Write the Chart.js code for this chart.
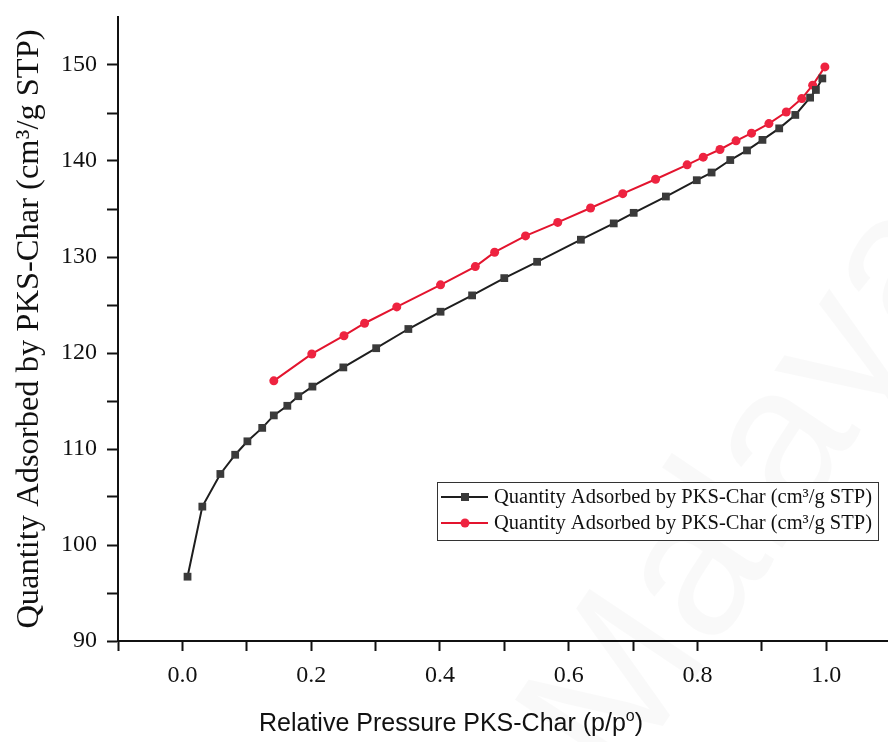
<!DOCTYPE html>
<html>
<head>
<meta charset="utf-8">
<script src="https://cdn.jsdelivr.net/npm/chart.js@4"></script>
<style>
    html, body { margin: 0; padding: 0; background: #fff; }
    #wrap { width: 888px; height: 742px; }
</style>
</head>
<body>
<div id="wrap"><canvas id="isoChart" width="888" height="742"></canvas></div>
<script>
// Relative pressure (p/p0) and quantity adsorbed
const adsP = [0.008, 0.031, 0.059, 0.082, 0.101, 0.124, 0.142, 0.163, 0.180, 0.202,
    0.250, 0.301, 0.351, 0.401, 0.450, 0.500, 0.551, 0.619, 0.670, 0.701,
    0.751, 0.799, 0.822, 0.851, 0.877, 0.901, 0.927, 0.952, 0.975, 0.984, 0.994]
const adsQ = [96.7, 104.0, 107.4, 109.4, 110.8, 112.2, 113.5, 114.5, 115.5, 116.5,
    118.5, 120.5, 122.5, 124.3, 126.0, 127.8, 129.5, 131.8, 133.5, 134.6,
    136.3, 138.0, 138.8, 140.1, 141.1, 142.2, 143.4, 144.8, 146.6, 147.4, 148.6]

const desP = [0.142, 0.201, 0.251, 0.283, 0.333, 0.401, 0.455, 0.485, 0.533, 0.583,
    0.634, 0.684, 0.735, 0.784, 0.809, 0.835, 0.860, 0.884, 0.911, 0.938,
    0.962, 0.979, 0.998]
const desQ = [117.1, 119.9, 121.8, 123.1, 124.8, 127.1, 129.0, 130.5, 132.2, 133.6,
    135.1, 136.6, 138.1, 139.6, 140.4, 141.2, 142.1, 142.9, 143.9, 145.1,
    146.5, 147.9, 149.8]

// major + minor tick positions, labels only on the majors
const xTickValues = [-0.1, 0.0, 0.1, 0.2, 0.3, 0.4, 0.5, 0.6, 0.7, 0.8, 0.9, 1.0]
const xTickLabels = ['0.0', '0.2', '0.4', '0.6', '0.8', '1.0']
const yTickLabels = ['90', '100', '110', '120', '130', '140', '150']

const seriesLabel = 'Quantity Adsorbed by PKS-Char (cm\u00B3/g STP)'
const serif = "'Liberation Serif', 'Times New Roman', serif"
const sans = "'Liberation Sans', Arial, sans-serif"

const toPoints = (xs, ys) => xs.map((x, i) => ({ x: x, y: ys[i] }))

// legend box drawn inside the plot, like the original figure
const insideLegend = {
    id: 'insideLegend',
    afterDatasetsDraw(chart) {
        const ctx = chart.ctx
        const left = 437, top = 482, w = 441, rowH = 26
        ctx.save()
        ctx.fillStyle = '#fff'
        ctx.fillRect(left, top, w, rowH * 2 + 6)
        ctx.strokeStyle = '#333'
        ctx.lineWidth = 1
        ctx.strokeRect(left + 0.5, top + 0.5, w, rowH * 2 + 6)
        chart.data.datasets.forEach((ds, i) => {
            const cy = top + 15 + i * rowH
            ctx.strokeStyle = ds.borderColor
            ctx.lineWidth = 2
            ctx.beginPath()
            ctx.moveTo(441, cy)
            ctx.lineTo(488, cy)
            ctx.stroke()
            ctx.fillStyle = ds.pointBackgroundColor
            if (ds.pointStyle === 'rect') {
                ctx.fillRect(461, cy - 4, 8, 8)
            } else {
                ctx.beginPath()
                ctx.arc(465, cy, 4.5, 0, Math.PI * 2)
                ctx.fill()
            }
            ctx.fillStyle = '#111'
            ctx.font = '20.5px ' + serif
            ctx.textBaseline = 'middle'
            ctx.fillText(ds.label, 494, cy + 1)
        })
        ctx.restore()
    }
}

// x title with a raised "o", placed where the original has it
const xTitle = {
    id: 'xTitle',
    afterDraw(chart) {
        const ctx = chart.ctx
        ctx.save()
        ctx.fillStyle = '#111'
        ctx.textBaseline = 'alphabetic'
        ctx.font = '25px ' + sans
        const main = 'Relative Pressure PKS-Char (p/p'
        const wMain = ctx.measureText(main).width
        ctx.font = '16px ' + sans
        const wSup = ctx.measureText('o').width
        ctx.font = '25px ' + sans
        const wEnd = ctx.measureText(')').width
        let x = 451 - (wMain + wSup + wEnd) / 2
        const base = 731
        ctx.fillText(main, x, base)
        x += wMain
        ctx.font = '16px ' + sans
        ctx.fillText('o', x, base - 10)
        x += wSup
        ctx.font = '25px ' + sans
        ctx.fillText(')', x, base)
        ctx.restore()
    }
}

// faint diagonal watermark of the source page
const watermark = {
    id: 'watermark',
    beforeDatasetsDraw(chart) {
        const ctx = chart.ctx
        ctx.save()
        ctx.translate(620, 790)
        ctx.rotate(-0.98)
        ctx.fillStyle = 'rgba(0,0,0,0.022)'
        ctx.font = '200px ' + sans
        ctx.fillText('Malaya', 0, 0)
        ctx.restore()
    }
}

// tick marks only inside the drawn axis range
const tickColorIn = (lo, hi) => (ctx) =>
    (ctx.tick && (ctx.tick.value < lo || ctx.tick.value > hi)) ? 'rgba(0,0,0,0)' : '#111'

new Chart(document.getElementById('isoChart').getContext('2d'), {
    type: 'scatter',
    data: {
        datasets: [
            {
                label: seriesLabel,
                data: toPoints(adsP, adsQ),
                showLine: true,
                borderColor: '#1e1e1e',
                borderWidth: 2,
                pointStyle: 'rect',
                pointRadius: 5.5,
                pointBackgroundColor: '#3a3a3a',
                pointBorderColor: '#2a2a2a',
                pointBorderWidth: 0,
            },
            {
                label: seriesLabel,
                data: toPoints(desP, desQ),
                showLine: true,
                borderColor: '#e3142e',
                borderWidth: 2,
                pointStyle: 'circle',
                pointRadius: 4.5,
                pointBackgroundColor: '#ee2340',
                pointBorderColor: '#e3142e',
                pointBorderWidth: 0,
            },
        ],
    },
    options: {
        responsive: false,
        animation: false,
        layout: { autoPadding: false, padding: { top: 17, right: 0, left: 0, bottom: 0 } },
        plugins: {
            legend: { display: false },
            tooltip: { enabled: false },
        },
        scales: {
            x: {
                type: 'linear',
                min: -0.1,
                max: 1.096,
                afterBuildTicks(scale) {
                    scale.ticks = xTickValues.map(v => ({ value: v }))
                },
                afterFit(scale) {
                    scale.height = 101
                    scale.paddingLeft = 0
                    scale.paddingRight = 0
                },
                border: { display: true, color: '#111', width: 2 },
                grid: {
                    drawOnChartArea: false,
                    drawTicks: true,
                    tickLength: 10,
                    tickWidth: 2,
                    tickColor: '#111',
                },
                ticks: {
                    autoSkip: false,
                    maxRotation: 0,
                    padding: 10,
                    color: '#111',
                    font: { family: serif, size: 24 },
                    callback(v) {
                        const s = Number(v).toFixed(1)
                        return xTickLabels.includes(s) ? s : ''
                    },
                },
            },
            y: {
                type: 'linear',
                min: 90,
                max: 155,
                afterFit(scale) {
                    scale.width = 118
                    scale.paddingTop = 0
                    scale.paddingBottom = 0
                },
                border: { display: true, color: '#111', width: 2 },
                grid: {
                    drawOnChartArea: false,
                    drawTicks: true,
                    tickLength: 11,
                    tickWidth: 2,
                    tickColor: tickColorIn(89, 151),
                },
                ticks: {
                    stepSize: 5,
                    autoSkip: false,
                    padding: 10,
                    color: '#111',
                    font: { family: serif, size: 24 },
                    callback(v) {
                        const s = String(Math.round(v))
                        return yTickLabels.includes(s) ? s : ''
                    },
                },
                title: {
                    display: true,
                    text: seriesLabel,
                    color: '#111',
                    font: { family: serif, size: 32.5 },
                    padding: { top: 10, bottom: 0 },
                },
            },
        },
    },
    plugins: [watermark, insideLegend, xTitle],
})
</script>
</body>
</html>
